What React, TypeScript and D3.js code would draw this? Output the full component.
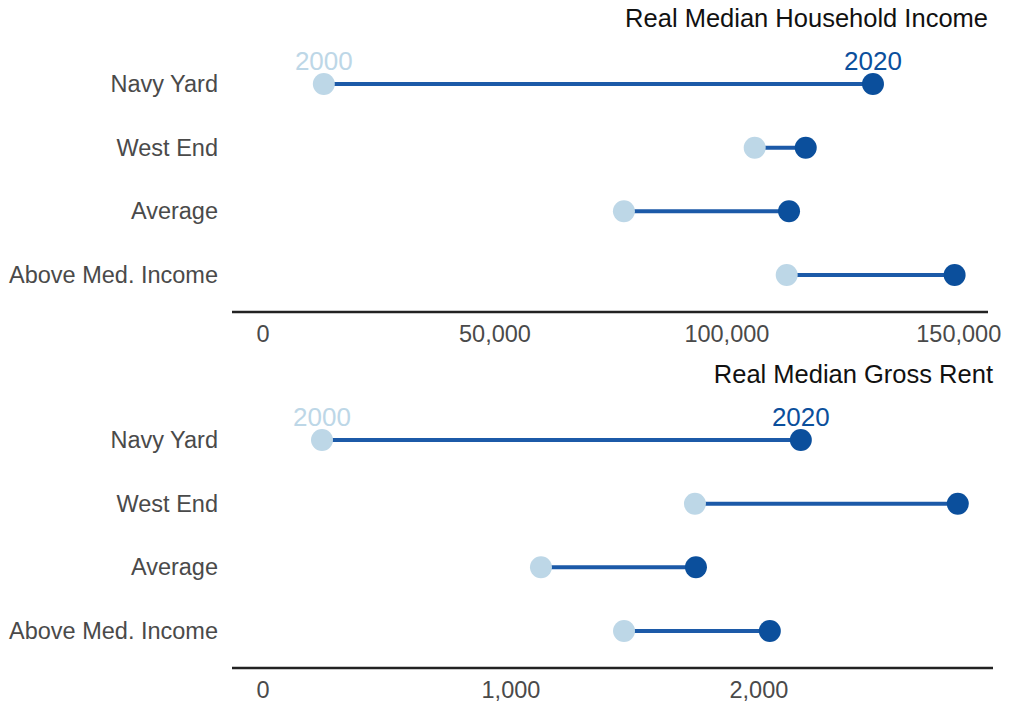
import React from "react";
import * as d3 from "d3";

const categories = ["Navy Yard", "West End", "Average", "Above Med. Income"];
const income2000 = [13100, 106000, 77800, 112900];
const income2020 = [131500, 117000, 113400, 149100];
const rent2000 = [238, 1742, 1121, 1456];
const rent2020 = [2169, 2802, 1746, 2044];
const incomeTicks = [0, 50000, 100000, 150000];
const rentTicks = [0, 1000, 2000];

const LIGHT = "#bdd7e7";
const DARK = "#0b4f9c";
const LINE = "#1c5aa8";
const TEXT = "#4a4a4a";
const FONT = "'Liberation Sans', Arial, Helvetica, sans-serif";

type PanelProps = {
  top: number;
  title: string;
  v0: number[];
  v1: number[];
  ticks: number[];
  domain: [number, number];
  xRange: [number, number];
};

function Panel({ top, title, v0, v1, ticks, domain, xRange }: PanelProps) {
  const x = d3.scaleLinear().domain(domain).range(xRange);
  const y = d3.scalePoint<string>().domain(categories).range([top + 84, top + 275]);
  const fmt = d3.format(",");
  const axisY = top + 312;
  return (
    <g>
      <text x={xRange[1]} y={top + 27} textAnchor="end" fontSize={25.5} fill="#111" fontFamily={FONT}>
        {title}
      </text>
      {categories.map((c, i) => (
        <g key={c}>
          <text x={218} y={(y(c) as number) + 8} textAnchor="end" fontSize={23.5} fill={TEXT} fontFamily={FONT}>
            {c}
          </text>
          <line x1={x(v0[i])} x2={x(v1[i])} y1={y(c)} y2={y(c)} stroke={LINE} strokeWidth={4} />
          <circle cx={x(v0[i])} cy={y(c)} r={11} fill={LIGHT} />
          <circle cx={x(v1[i])} cy={y(c)} r={11} fill={DARK} />
        </g>
      ))}
      <text x={x(v0[0])} y={(y(categories[0]) as number) - 14} textAnchor="middle" fontSize={26} fill={LIGHT} fontFamily={FONT}>
        2000
      </text>
      <text x={x(v1[0])} y={(y(categories[0]) as number) - 14} textAnchor="middle" fontSize={26} fill={DARK} fontFamily={FONT}>
        2020
      </text>
      <line x1={xRange[0]} x2={xRange[1]} y1={axisY} y2={axisY} stroke="#222" strokeWidth={2.5} />
      {ticks.map((t) => (
        <text key={t} x={x(t)} y={axisY + 30} textAnchor="middle" fontSize={23.5} fill={TEXT} fontFamily={FONT}>
          {fmt(t)}
        </text>
      ))}
    </g>
  );
}

export default function App() {
  return (
    <svg width={1011} height={705} style={{ position: "absolute", left: 0, top: 0, background: "#fff" }}>
      <Panel
        top={0}
        title="Real Median Household Income"
        v0={income2000}
        v1={income2020}
        ticks={incomeTicks}
        domain={[-6700, 156300]}
        xRange={[232, 988]}
      />
      <Panel
        top={356}
        title="Real Median Gross Rent"
        v0={rent2000}
        v1={rent2020}
        ticks={rentTicks}
        domain={[-125, 2944]}
        xRange={[232, 993]}
      />
    </svg>
  );
}
